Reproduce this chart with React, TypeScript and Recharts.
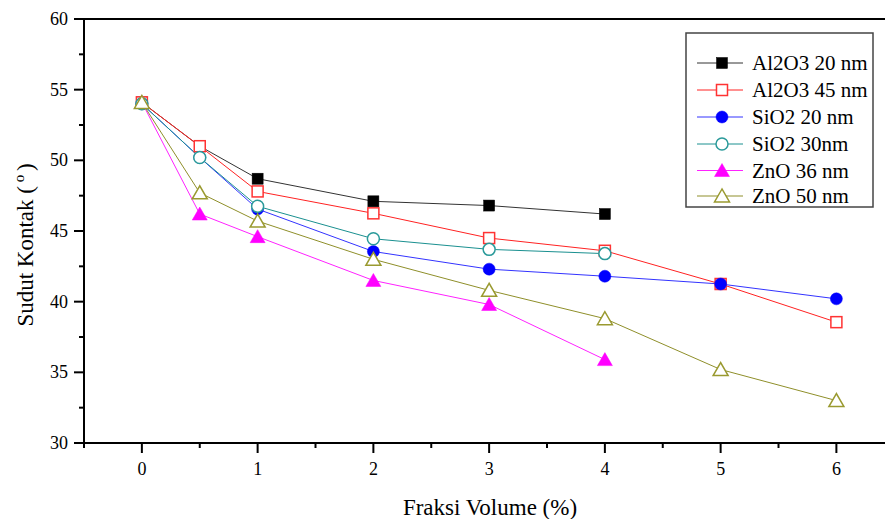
import React from "react";
import { LineChart, Line, XAxis, YAxis, ReferenceLine, Legend } from "recharts";

// ---- data ----
const fraksiVolume = [0, 0.5, 1, 2, 3, 4, 5, 6];
const al2o3_20 = [54.1, 51.0, 48.7, 47.1, 46.8, 46.2, null, null];
const al2o3_45 = [54.1, 51.0, 47.8, 46.25, 44.5, 43.6, 41.25, 38.55];
const sio2_20 = [54.0, 50.2, 46.55, 43.55, 42.3, 41.8, 41.25, 40.2];
const sio2_30 = [54.0, 50.2, 46.75, 44.45, 43.7, 43.4, null, null];
const zno_36 = [54.1, 46.2, 44.6, 41.5, 39.8, 35.9, null, null];
const zno_50 = [54.1, 47.7, 45.7, 43.0, 40.8, 38.8, 35.2, 33.0];

const xTicks = [-0.5, 0, 0.5, 1, 1.5, 2, 2.5, 3, 3.5, 4, 4.5, 5, 5.5, 6];
const yTicks = [30, 32.5, 35, 37.5, 40, 42.5, 45, 47.5, 50, 52.5, 55, 57.5, 60];

const seriesNames = ["Al2O3 20 nm", "Al2O3 45 nm", "SiO2 20 nm", "SiO2 30nm", "ZnO 36 nm", "ZnO 50 nm"];
const seriesValues = [al2o3_20, al2o3_45, sio2_20, sio2_30, zno_36, zno_50];

// ---- styles ----
const FONT = '"Liberation Serif", "Times New Roman", serif';
const seriesStyle = [
  { color: "#000000", line: "#333333", shape: "square", filled: true },
  { color: "#ff3333", line: "#ff2222", shape: "square", filled: false },
  { color: "#0000ff", line: "#3333ff", shape: "circle", filled: true },
  { color: "#2a9a9a", line: "#1a9090", shape: "circle", filled: false },
  { color: "#ff00ff", line: "#ff22ff", shape: "triangle", filled: true },
  { color: "#9a9a30", line: "#8f8f2a", shape: "triangle", filled: false },
];

const keys = seriesNames.map((_, i) => `s${i}`);
const data = fraksiVolume.map((x, i) => {
  const row: any = { x };
  seriesValues.forEach((arr, s) => {
    row[keys[s]] = arr[i];
  });
  return row;
});

function Marker({ cx, cy, shape, color, filled }: any) {
  const fill = filled ? color : "#ffffff";
  const sw = filled ? 0.5 : 1.5;
  if (shape === "square") {
    return <rect x={cx - 5.5} y={cy - 5.5} width={11} height={11} fill={fill} stroke={color} strokeWidth={sw} />;
  }
  if (shape === "circle") {
    return <circle cx={cx} cy={cy} r={6} fill={fill} stroke={color} strokeWidth={sw} />;
  }
  return (
    <polygon
      points={`${cx},${cy - 7} ${cx - 7.5},${cy + 6} ${cx + 7.5},${cy + 6}`}
      fill={fill}
      stroke={color}
      strokeWidth={sw}
    />
  );
}

function XTick(props: any) {
  const { x, y, payload } = props;
  const v = payload.value;
  const major = Number.isInteger(v);
  return (
    <g>
      <line x1={x} x2={x} y1={y} y2={y + (major ? 10 : 5)} stroke="#000" strokeWidth={2} />
      {major && (
        <text x={x} y={y + 32} textAnchor="middle" fontSize={18} fontFamily={FONT} fill="#000">
          {v}
        </text>
      )}
    </g>
  );
}

function YTick(props: any) {
  const { x, y, payload } = props;
  const v = payload.value;
  const major = v % 5 === 0;
  return (
    <g>
      <line x1={x - (major ? 10 : 5)} x2={x} y1={y} y2={y} stroke="#000" strokeWidth={2} />
      {major && (
        <text x={x - 16} y={y + 6} textAnchor="end" fontSize={18} fontFamily={FONT} fill="#000">
          {v}
        </text>
      )}
    </g>
  );
}

function LegendBox() {
  const rowY = [30, 57, 84, 111, 137.5, 163];
  return (
    <svg width={190} height={177} style={{ display: "block" }}>
      <rect x={1} y={1} width={187} height={174} fill="#fff" stroke="#444" strokeWidth={1.5} />
      {seriesNames.map((name, i) => {
        const st = seriesStyle[i];
        const cy = rowY[i] + 1;
        return (
          <g key={name}>
            <line x1={12} x2={58} y1={cy} y2={cy} stroke={st.line} strokeWidth={1} />
            <Marker cx={37} cy={cy} shape={st.shape} color={st.color} filled={st.filled} />
            <text x={67} y={cy + 7} fontSize={21} fontFamily={FONT} fill="#000">
              {name}
            </text>
          </g>
        );
      })}
    </svg>
  );
}

export default function App() {
  return (
    <div style={{ position: "absolute", left: 0, top: 0, width: 885, height: 519, background: "#fff" }}>
      <LineChart width={885} height={519} data={data} margin={{ top: 19, right: 0, bottom: 0, left: 0 }}>
        <XAxis
          type="number"
          dataKey="x"
          domain={[-0.5, 6.42]}
          allowDataOverflow
          ticks={xTicks}
          interval={0}
          height={76}
          tickSize={0}
          tickMargin={0}
          tickLine={false}
          axisLine={{ stroke: "#000", strokeWidth: 2 }}
          tick={<XTick />}
          label={{
            content: () => (
              <text x={490} y={515} textAnchor="middle" fontSize={23} fontFamily={FONT} fill="#000">
                Fraksi Volume (%)
              </text>
            ),
          }}
        />
        <YAxis
          type="number"
          domain={[30, 60]}
          allowDataOverflow
          ticks={yTicks}
          interval={0}
          width={84}
          tickSize={0}
          tickMargin={0}
          tickLine={false}
          axisLine={{ stroke: "#000", strokeWidth: 2 }}
          tick={<YTick />}
          label={{
            content: () => (
              <text
                x={25}
                y={245}
                transform="rotate(-90, 25, 245)"
                dy={8}
                textAnchor="middle"
                fontSize={23}
                fontFamily={FONT}
                fill="#000"
              >
                Sudut Kontak (
                <tspan fontSize={15} dy={-9}> o </tspan>
                <tspan dy={9}>)</tspan>
              </text>
            ),
          }}
        />
        <ReferenceLine y={60} stroke="#000" strokeWidth={2} />
        <Legend
          verticalAlign="middle"
          align="center"
          layout="horizontal"
          wrapperStyle={{ position: "absolute", left: 685, top: 32, width: 190, height: 177 }}
          content={() => <LegendBox />}
        />
        {keys.map((k, i) => {
          const st = seriesStyle[i];
          return (
            <Line
              key={k}
              type="linear"
              dataKey={k}
              name={seriesNames[i]}
              stroke={st.line}
              strokeWidth={1}
              isAnimationActive={false}
              connectNulls={false}
              activeDot={false}
              dot={(p: any) => {
                if (p.cy == null || p.value == null) return <g key={`${k}-${p.index}`} />;
                return (
                  <Marker
                    key={`${k}-${p.index}`}
                    cx={p.cx}
                    cy={p.cy}
                    shape={st.shape}
                    color={st.color}
                    filled={st.filled}
                  />
                );
              }}
            />
          );
        })}
      </LineChart>
    </div>
  );
}
